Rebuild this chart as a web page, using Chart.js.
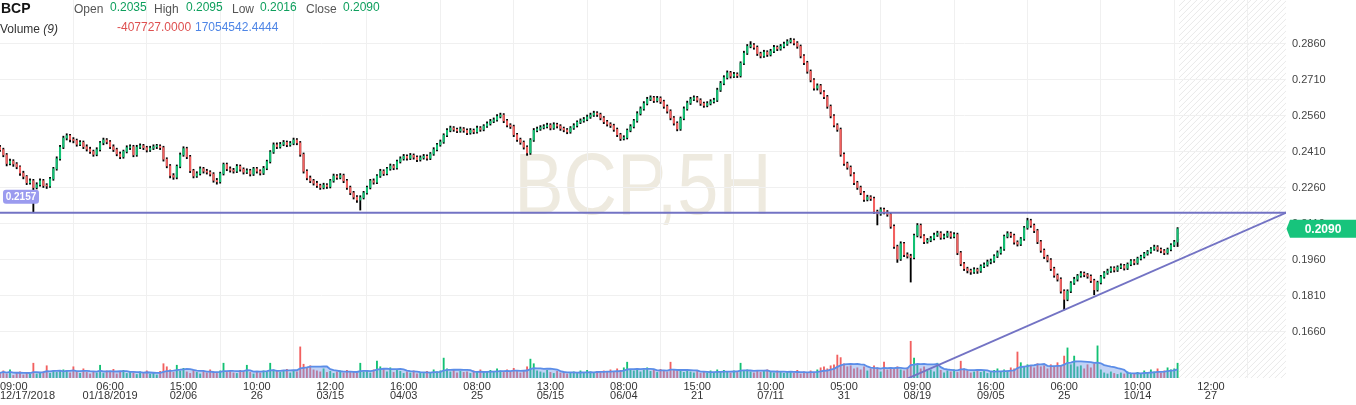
<!DOCTYPE html>
<html lang="en">
<head>
  <meta charset="UTF-8">
  <title>BCP,5H</title>
  <style>
    html, body { margin: 0; padding: 0; background: #fff; overflow: hidden; }
    #wrap { position: relative; width: 1356px; height: 405px; font-family: Arial, "Liberation Sans", sans-serif; }
    canvas { display: block; }
    .hd { position: absolute; white-space: nowrap; font-size: 12px; line-height: 12px; color: #555; }
    .ttl { font-size: 14px; line-height: 14px; font-weight: bold; color: #131313; }
    .val { color: #0e9f5d; }
    .red { color: #de5050; }
    .blue { color: #4f86e6; }
    .dark { color: #333; }
  </style>
</head>
<body>
<div id="wrap">
  <canvas id="grafico" width="1356" height="405"></canvas>
  <span class="hd ttl" style="left:1px;top:1px">BCP</span>
  <span class="hd" style="left:74px;top:3px">Open</span><span class="hd val" id="vOpen" style="left:110px;top:1px"></span>
  <span class="hd" style="left:154px;top:3px">High</span><span class="hd val" id="vHigh" style="left:186px;top:1px"></span>
  <span class="hd" style="left:232px;top:3px">Low</span><span class="hd val" id="vLow" style="left:260px;top:1px"></span>
  <span class="hd" style="left:306px;top:3px">Close</span><span class="hd val" id="vClose" style="left:343px;top:1px"></span>
  <span class="hd dark" style="left:0px;top:23px">Volume <i>(9)</i></span>
  <span class="hd red" style="left:117px;top:21px">-407727.0000</span>
  <span class="hd blue" style="left:195px;top:21px">17054542.4444</span>
</div>

<script src="https://cdn.jsdelivr.net/npm/chart.js"></script>
<script>
// 5H candles, one per index
const opens = [
  0.2430,0.2420,0.2398,0.2362,0.2372,0.2360,0.2348,0.2322,0.2308,0.2282,
  0.2290,0.2262,0.2274,0.2290,0.2270,0.2268,0.2298,0.2340,0.2382,0.2430,
  0.2468,0.2478,0.2462,0.2458,0.2442,0.2450,0.2432,0.2422,0.2412,0.2400,
  0.2420,0.2448,0.2460,0.2452,0.2432,0.2420,0.2402,0.2390,0.2412,0.2428,
  0.2432,0.2398,0.2430,0.2436,0.2428,0.2418,0.2426,0.2432,0.2434,0.2428,
  0.2380,0.2352,0.2312,0.2305,0.2350,0.2398,0.2424,0.2390,0.2332,0.2310,
  0.2320,0.2340,0.2330,0.2326,0.2318,0.2292,0.2286,0.2320,0.2358,0.2340,
  0.2334,0.2330,0.2350,0.2338,0.2326,0.2332,0.2318,0.2340,0.2330,0.2322,
  0.2342,0.2370,0.2410,0.2440,0.2432,0.2442,0.2450,0.2440,0.2446,0.2460,
  0.2448,0.2400,0.2330,0.2302,0.2290,0.2280,0.2270,0.2262,0.2272,0.2266,
  0.2290,0.2310,0.2304,0.2312,0.2290,0.2262,0.2240,0.2222,0.2210,0.2220,
  0.2240,0.2262,0.2290,0.2284,0.2310,0.2330,0.2320,0.2340,0.2352,0.2344,
  0.2370,0.2382,0.2392,0.2384,0.2396,0.2388,0.2378,0.2386,0.2392,0.2384,
  0.2402,0.2420,0.2440,0.2452,0.2480,0.2500,0.2510,0.2504,0.2498,0.2506,
  0.2500,0.2490,0.2500,0.2494,0.2510,0.2504,0.2518,0.2528,0.2538,0.2544,
  0.2558,0.2564,0.2540,0.2522,0.2516,0.2482,0.2462,0.2450,0.2430,0.2406,
  0.2460,0.2500,0.2506,0.2512,0.2516,0.2522,0.2510,0.2524,0.2518,0.2508,
  0.2502,0.2494,0.2510,0.2520,0.2534,0.2540,0.2546,0.2556,0.2564,0.2572,
  0.2566,0.2552,0.2536,0.2526,0.2520,0.2504,0.2482,0.2466,0.2470,0.2500,
  0.2516,0.2540,0.2570,0.2590,0.2612,0.2630,0.2636,0.2624,0.2634,0.2620,
  0.2600,0.2580,0.2552,0.2530,0.2506,0.2550,0.2590,0.2614,0.2630,0.2636,
  0.2626,0.2612,0.2604,0.2612,0.2620,0.2626,0.2668,0.2696,0.2720,0.2740,
  0.2726,0.2734,0.2728,0.2780,0.2822,0.2850,0.2856,0.2846,0.2820,0.2810,
  0.2826,0.2816,0.2830,0.2846,0.2840,0.2850,0.2860,0.2870,0.2876,0.2864,
  0.2850,0.2810,0.2782,0.2746,0.2710,0.2676,0.2686,0.2660,0.2640,0.2600,
  0.2560,0.2522,0.2504,0.2400,0.2362,0.2346,0.2318,0.2282,0.2262,0.2240,
  0.2212,0.2222,0.2216,0.2162,0.2152,0.2170,0.2160,0.2150,0.2100,0.2016,
  0.1964,0.2028,0.1982,0.1976,0.1970,0.2062,0.2104,0.2060,0.2036,0.2042,
  0.2050,0.2064,0.2072,0.2054,0.2060,0.2072,0.2058,0.2066,0.1990,0.1944,
  0.1924,0.1916,0.1910,0.1920,0.1914,0.1934,0.1940,0.1952,0.1956,0.1976,
  0.1990,0.2006,0.2058,0.2070,0.2062,0.2034,0.2026,0.2048,0.2094,0.2124,
  0.2104,0.2082,0.2036,0.2000,0.1974,0.1960,0.1924,0.1896,0.1880,0.1830,
  0.1796,0.1830,0.1864,0.1880,0.1894,0.1904,0.1898,0.1892,0.1874,0.1836,
  0.1866,0.1890,0.1906,0.1914,0.1926,0.1918,0.1930,0.1936,0.1926,0.1942,
  0.1956,0.1948,0.1966,0.1974,0.1986,0.1994,0.2006,0.2014,0.2004,0.1998,
  0.1990,0.2004,0.2022,0.2035
];
const highs = [
  0.2438,0.2426,0.2404,0.2380,0.2378,0.2366,0.2352,0.2330,0.2312,0.2298,
  0.2296,0.2282,0.2298,0.2296,0.2278,0.2304,0.2346,0.2390,0.2438,0.2476,
  0.2486,0.2484,0.2470,0.2464,0.2458,0.2456,0.2440,0.2430,0.2418,0.2428,
  0.2454,0.2468,0.2466,0.2458,0.2440,0.2426,0.2410,0.2418,0.2436,0.2440,
  0.2438,0.2438,0.2444,0.2442,0.2434,0.2434,0.2440,0.2442,0.2440,0.2434,
  0.2386,0.2358,0.2320,0.2356,0.2406,0.2432,0.2430,0.2396,0.2338,0.2328,
  0.2348,0.2346,0.2338,0.2332,0.2324,0.2300,0.2326,0.2364,0.2364,0.2348,
  0.2342,0.2358,0.2356,0.2344,0.2340,0.2338,0.2346,0.2346,0.2336,0.2350,
  0.2376,0.2416,0.2448,0.2448,0.2450,0.2458,0.2456,0.2454,0.2468,0.2466,
  0.2454,0.2406,0.2336,0.2310,0.2296,0.2288,0.2276,0.2280,0.2278,0.2296,
  0.2318,0.2316,0.2320,0.2318,0.2296,0.2268,0.2246,0.2228,0.2228,0.2246,
  0.2268,0.2296,0.2298,0.2316,0.2338,0.2336,0.2346,0.2360,0.2358,0.2376,
  0.2390,0.2400,0.2398,0.2404,0.2402,0.2394,0.2394,0.2400,0.2398,0.2408,
  0.2428,0.2446,0.2460,0.2486,0.2508,0.2518,0.2516,0.2510,0.2514,0.2512,
  0.2506,0.2508,0.2506,0.2518,0.2516,0.2524,0.2536,0.2546,0.2552,0.2566,
  0.2572,0.2570,0.2546,0.2528,0.2522,0.2488,0.2468,0.2456,0.2436,0.2466,
  0.2508,0.2514,0.2520,0.2524,0.2530,0.2528,0.2532,0.2530,0.2524,0.2514,
  0.2508,0.2516,0.2528,0.2540,0.2548,0.2554,0.2564,0.2572,0.2580,0.2578,
  0.2572,0.2558,0.2542,0.2532,0.2526,0.2510,0.2488,0.2478,0.2506,0.2524,
  0.2546,0.2578,0.2598,0.2620,0.2638,0.2644,0.2642,0.2642,0.2640,0.2626,
  0.2606,0.2586,0.2558,0.2536,0.2556,0.2598,0.2622,0.2638,0.2644,0.2642,
  0.2632,0.2618,0.2620,0.2628,0.2634,0.2676,0.2704,0.2728,0.2748,0.2746,
  0.2742,0.2740,0.2786,0.2830,0.2858,0.2870,0.2862,0.2852,0.2826,0.2834,
  0.2832,0.2838,0.2854,0.2852,0.2858,0.2868,0.2878,0.2884,0.2882,0.2870,
  0.2856,0.2816,0.2788,0.2752,0.2716,0.2694,0.2692,0.2666,0.2646,0.2606,
  0.2566,0.2528,0.2510,0.2406,0.2368,0.2352,0.2324,0.2288,0.2268,0.2246,
  0.2230,0.2228,0.2222,0.2168,0.2178,0.2176,0.2166,0.2156,0.2106,0.2022,
  0.2036,0.2034,0.1990,0.1984,0.2068,0.2112,0.2110,0.2066,0.2050,0.2058,
  0.2072,0.2080,0.2078,0.2068,0.2080,0.2078,0.2074,0.2072,0.1996,0.1950,
  0.1930,0.1922,0.1928,0.1926,0.1940,0.1948,0.1960,0.1964,0.1982,0.1998,
  0.2014,0.2064,0.2078,0.2076,0.2068,0.2040,0.2054,0.2100,0.2134,0.2130,
  0.2110,0.2088,0.2042,0.2006,0.1980,0.1966,0.1930,0.1902,0.1886,0.1836,
  0.1836,0.1870,0.1888,0.1900,0.1912,0.1910,0.1904,0.1898,0.1880,0.1872,
  0.1896,0.1912,0.1922,0.1932,0.1932,0.1936,0.1944,0.1942,0.1948,0.1962,
  0.1962,0.1972,0.1980,0.1992,0.2000,0.2012,0.2022,0.2020,0.2010,0.2004,
  0.2010,0.2028,0.2042,0.2095
];
const lows = [
  0.2412,0.2390,0.2352,0.2356,0.2350,0.2340,0.2312,0.2298,0.2274,0.2276,
  0.2157,0.2256,0.2268,0.2262,0.2258,0.2262,0.2292,0.2334,0.2376,0.2424,
  0.2460,0.2452,0.2448,0.2434,0.2436,0.2424,0.2414,0.2404,0.2392,0.2394,
  0.2414,0.2440,0.2444,0.2424,0.2412,0.2394,0.2382,0.2384,0.2406,0.2420,
  0.2390,0.2392,0.2424,0.2420,0.2410,0.2412,0.2420,0.2424,0.2420,0.2372,
  0.2344,0.2302,0.2296,0.2298,0.2344,0.2392,0.2382,0.2324,0.2302,0.2304,
  0.2314,0.2322,0.2318,0.2310,0.2284,0.2276,0.2280,0.2314,0.2332,0.2326,
  0.2322,0.2324,0.2330,0.2318,0.2320,0.2310,0.2312,0.2322,0.2314,0.2316,
  0.2336,0.2364,0.2404,0.2424,0.2426,0.2436,0.2432,0.2434,0.2440,0.2440,
  0.2392,0.2322,0.2294,0.2282,0.2272,0.2262,0.2254,0.2256,0.2258,0.2260,
  0.2284,0.2296,0.2298,0.2282,0.2254,0.2232,0.2214,0.2200,0.2168,0.2214,
  0.2234,0.2256,0.2276,0.2278,0.2304,0.2312,0.2314,0.2334,0.2336,0.2338,
  0.2364,0.2376,0.2376,0.2378,0.2380,0.2370,0.2372,0.2380,0.2376,0.2378,
  0.2396,0.2414,0.2434,0.2446,0.2474,0.2494,0.2496,0.2490,0.2492,0.2492,
  0.2482,0.2484,0.2486,0.2488,0.2496,0.2498,0.2512,0.2522,0.2532,0.2538,
  0.2552,0.2532,0.2514,0.2508,0.2474,0.2454,0.2442,0.2422,0.2396,0.2400,
  0.2454,0.2494,0.2500,0.2506,0.2510,0.2502,0.2504,0.2510,0.2500,0.2494,
  0.2486,0.2488,0.2504,0.2514,0.2528,0.2534,0.2540,0.2550,0.2558,0.2558,
  0.2544,0.2528,0.2518,0.2512,0.2496,0.2474,0.2458,0.2460,0.2464,0.2494,
  0.2510,0.2534,0.2564,0.2584,0.2606,0.2624,0.2616,0.2618,0.2612,0.2592,
  0.2572,0.2544,0.2522,0.2498,0.2500,0.2544,0.2584,0.2608,0.2624,0.2618,
  0.2604,0.2596,0.2598,0.2606,0.2614,0.2620,0.2662,0.2690,0.2714,0.2718,
  0.2720,0.2720,0.2722,0.2774,0.2816,0.2844,0.2838,0.2812,0.2802,0.2804,
  0.2808,0.2810,0.2824,0.2832,0.2834,0.2844,0.2854,0.2864,0.2856,0.2842,
  0.2802,0.2774,0.2738,0.2702,0.2668,0.2668,0.2652,0.2632,0.2592,0.2552,
  0.2514,0.2496,0.2392,0.2354,0.2338,0.2310,0.2274,0.2254,0.2232,0.2204,
  0.2206,0.2208,0.2154,0.2106,0.2146,0.2152,0.2142,0.2092,0.2008,0.1950,
  0.1958,0.1974,0.1968,0.1868,0.1964,0.2056,0.2052,0.2028,0.2030,0.2036,
  0.2044,0.2058,0.2046,0.2048,0.2054,0.2050,0.2052,0.1982,0.1936,0.1916,
  0.1906,0.1900,0.1904,0.1904,0.1908,0.1928,0.1934,0.1944,0.1950,0.1970,
  0.1984,0.2000,0.2052,0.2054,0.2026,0.2018,0.2020,0.2042,0.2088,0.2096,
  0.2074,0.2028,0.1992,0.1966,0.1952,0.1916,0.1888,0.1872,0.1822,0.1752,
  0.1790,0.1824,0.1858,0.1872,0.1888,0.1890,0.1884,0.1866,0.1815,0.1830,
  0.1860,0.1884,0.1900,0.1908,0.1910,0.1912,0.1924,0.1918,0.1920,0.1936,
  0.1940,0.1942,0.1960,0.1968,0.1980,0.1988,0.2000,0.1996,0.1990,0.1982,
  0.1984,0.1998,0.2016,0.2016
];
const closes = [
  0.2420,0.2398,0.2362,0.2372,0.2360,0.2348,0.2322,0.2308,0.2282,0.2290,
  0.2262,0.2274,0.2290,0.2270,0.2268,0.2298,0.2340,0.2382,0.2430,0.2468,
  0.2478,0.2462,0.2458,0.2442,0.2450,0.2432,0.2422,0.2412,0.2400,0.2420,
  0.2448,0.2460,0.2452,0.2432,0.2420,0.2402,0.2390,0.2412,0.2428,0.2432,
  0.2398,0.2430,0.2436,0.2428,0.2418,0.2426,0.2432,0.2434,0.2428,0.2380,
  0.2352,0.2312,0.2305,0.2350,0.2398,0.2424,0.2390,0.2332,0.2310,0.2320,
  0.2340,0.2330,0.2326,0.2318,0.2292,0.2286,0.2320,0.2358,0.2340,0.2334,
  0.2330,0.2350,0.2338,0.2326,0.2332,0.2318,0.2340,0.2330,0.2322,0.2342,
  0.2370,0.2410,0.2440,0.2432,0.2442,0.2450,0.2440,0.2446,0.2460,0.2448,
  0.2400,0.2330,0.2302,0.2290,0.2280,0.2270,0.2262,0.2272,0.2266,0.2290,
  0.2310,0.2304,0.2312,0.2290,0.2262,0.2240,0.2222,0.2210,0.2220,0.2240,
  0.2262,0.2290,0.2284,0.2310,0.2330,0.2320,0.2340,0.2352,0.2344,0.2370,
  0.2382,0.2392,0.2384,0.2396,0.2388,0.2378,0.2386,0.2392,0.2384,0.2402,
  0.2420,0.2440,0.2452,0.2480,0.2500,0.2510,0.2504,0.2498,0.2506,0.2500,
  0.2490,0.2500,0.2494,0.2510,0.2504,0.2518,0.2528,0.2538,0.2544,0.2558,
  0.2564,0.2540,0.2522,0.2516,0.2482,0.2462,0.2450,0.2430,0.2406,0.2460,
  0.2500,0.2506,0.2512,0.2516,0.2522,0.2510,0.2524,0.2518,0.2508,0.2502,
  0.2494,0.2510,0.2520,0.2534,0.2540,0.2546,0.2556,0.2564,0.2572,0.2566,
  0.2552,0.2536,0.2526,0.2520,0.2504,0.2482,0.2466,0.2470,0.2500,0.2516,
  0.2540,0.2570,0.2590,0.2612,0.2630,0.2636,0.2624,0.2634,0.2620,0.2600,
  0.2580,0.2552,0.2530,0.2506,0.2550,0.2590,0.2614,0.2630,0.2636,0.2626,
  0.2612,0.2604,0.2612,0.2620,0.2626,0.2668,0.2696,0.2720,0.2740,0.2726,
  0.2734,0.2728,0.2780,0.2822,0.2850,0.2856,0.2846,0.2820,0.2810,0.2826,
  0.2816,0.2830,0.2846,0.2840,0.2850,0.2860,0.2870,0.2876,0.2864,0.2850,
  0.2810,0.2782,0.2746,0.2710,0.2676,0.2686,0.2660,0.2640,0.2600,0.2560,
  0.2522,0.2504,0.2400,0.2362,0.2346,0.2318,0.2282,0.2262,0.2240,0.2212,
  0.2222,0.2216,0.2162,0.2152,0.2170,0.2160,0.2150,0.2100,0.2016,0.1964,
  0.2028,0.1982,0.1976,0.1970,0.2062,0.2104,0.2060,0.2036,0.2042,0.2050,
  0.2064,0.2072,0.2054,0.2060,0.2072,0.2058,0.2066,0.1990,0.1944,0.1924,
  0.1916,0.1910,0.1920,0.1914,0.1934,0.1940,0.1952,0.1956,0.1976,0.1990,
  0.2006,0.2058,0.2070,0.2062,0.2034,0.2026,0.2048,0.2094,0.2124,0.2104,
  0.2082,0.2036,0.2000,0.1974,0.1960,0.1924,0.1896,0.1880,0.1830,0.1796,
  0.1830,0.1864,0.1880,0.1894,0.1904,0.1898,0.1892,0.1874,0.1836,0.1866,
  0.1890,0.1906,0.1914,0.1926,0.1918,0.1930,0.1936,0.1926,0.1942,0.1956,
  0.1948,0.1966,0.1974,0.1986,0.1994,0.2006,0.2014,0.2004,0.1998,0.1990,
  0.2004,0.2022,0.2035,0.2090
];
// volume in millions of shares
const volumes = [
  10,14,8,16,5,9,12,6,11,7,  29,8,10,12,24,9,14,11,13,16,
  15,10,22,12,9,18,11,8,13,10,  25,9,14,11,17,8,12,15,9,13,
  10,7,12,9,14,8,11,6,13,28,  22,16,11,25,14,19,12,9,15,11,
  8,13,10,16,12,9,14,29,11,13,  10,9,15,12,25,11,8,13,10,14,
  12,29,16,14,11,13,17,10,15,12,  61,27,20,24,16,14,12,18,11,13,
  9,12,14,10,15,11,13,9,29,12,  14,10,16,33,22,18,12,20,11,15,
  13,9,12,10,14,8,11,9,13,10,  16,12,14,39,18,12,15,10,13,11,
  12,9,14,11,16,10,13,15,12,18,  14,11,16,12,19,13,10,15,22,37,
  28,14,12,10,15,11,9,13,10,12,  8,10,12,9,14,11,15,12,10,13,
  11,14,12,16,13,18,15,20,31,16,  14,18,12,16,20,13,15,11,17,14,
  12,31,15,13,17,11,14,12,10,13,  9,12,10,14,11,16,13,15,12,10,
  14,11,29,13,16,12,10,15,11,13,  16,12,10,14,11,9,13,12,10,15,
  8,12,10,14,11,16,20,22,18,24,  26,45,40,28,22,24,18,20,16,22,
  14,18,24,20,12,31,16,20,18,22,  16,14,20,72,39,26,18,22,14,16,
  12,29,15,10,14,12,16,11,33,18,  14,10,12,16,11,13,9,12,15,18,
  12,16,14,20,18,51,30,22,26,24,  20,28,22,24,18,26,22,30,24,43,
  59,26,43,22,24,18,26,20,28,63,  16,10,8,12,9,7,10,8,12,9,
  8,11,9,14,10,16,12,18,10,14,  20,16,18,29
];

const priceTicks = [0.1660, 0.1810, 0.1960, 0.2110, 0.2260, 0.2410, 0.2560, 0.2710, 0.2860];
const tickIdx = [11, 33, 55, 77, 99, 121, 143, 165, 187, 209, 231, 253, 275, 297, 319, 341, 363];
const tickLabels = [
  ['09:00', '12/17/2018'], ['06:00', '01/18/2019'], ['15:00', '02/06'], ['10:00', '26'],
  ['12:00', '03/15'], ['16:00', '04/03'], ['08:00', '25'], ['13:00', '05/15'],
  ['08:00', '06/04'], ['15:00', '21'], ['10:00', '07/11'], ['05:00', '31'],
  ['09:00', '08/19'], ['16:00', '09/05'], ['06:00', '25'], ['10:00', '10/14'], ['12:00', '27']
];
const levelPrice = 0.2157;
const trendIdx = [272, 386];
const trendPrice = [0.1466, 0.2160];
const maLength = 9;

const upColor = '#12c173';
const downColor = '#f2605f';
const lineColor = '#7373c4';

const n = closes.length;
const xMax = 385.5;
const idx = closes.map((c, i) => i);
const dirColor = idx.map(i => closes[i] >= opens[i] ? upColor : downColor);
const volMA = volumes.map((v, i) => {
  const part = volumes.slice(Math.max(0, i - maLength + 1), i + 1);
  return part.reduce((a, b) => a + b, 0) / part.length;
});

document.getElementById('vOpen').textContent = opens[n - 1].toFixed(4);
document.getElementById('vHigh').textContent = highs[n - 1].toFixed(4);
document.getElementById('vLow').textContent = lows[n - 1].toFixed(4);
document.getElementById('vClose').textContent = closes[n - 1].toFixed(4);

Chart.defaults.font.family = 'Arial, "Liberation Sans", sans-serif';

const backdrop = {
  id: 'backdrop',
  beforeDraw(chart) {
    const { ctx, chartArea: a, scales: { x } } = chart;
    // future zone, hatched
    const fx = x.getPixelForValue(n - 0.6);
    const h = a.bottom - a.top;
    ctx.save();
    ctx.beginPath();
    ctx.rect(fx, a.top, a.right - fx, h);
    ctx.clip();
    ctx.strokeStyle = '#eaeaea';
    ctx.lineWidth = 1;
    for (let k = fx - h; k < a.right; k += 6) {
      ctx.beginPath();
      ctx.moveTo(k, a.bottom);
      ctx.lineTo(k + h, a.top);
      ctx.stroke();
    }
    ctx.restore();
    // watermark
    ctx.save();
    ctx.fillStyle = '#eeeadf';
    ctx.font = '88px Arial, "Liberation Sans", sans-serif';
    ctx.textAlign = 'center';
    ctx.translate((a.left + a.right) / 2, (a.top + a.bottom) / 2 + 25);
    ctx.scale(0.84, 1);
    ctx.fillText('BCP,5H', 0, 0);
    ctx.restore();
  }
};

const overlay = {
  id: 'overlay',
  afterDraw(chart) {
    const { ctx, chartArea: a, scales: { x, y } } = chart;
    ctx.save();
    // time labels; the first one sits on the left edge
    ctx.font = '11px Arial, "Liberation Sans", sans-serif';
    ctx.fillStyle = '#333';
    ctx.textBaseline = 'alphabetic';
    tickIdx.forEach((t, k) => {
      const lines = tickLabels[k];
      let tx = x.getPixelForValue(t);
      ctx.textAlign = 'center';
      if (k === 0) { tx = a.left; ctx.textAlign = 'left'; }
      ctx.fillText(lines[0], tx, a.bottom + 12);
      ctx.fillText(lines[1], tx, a.bottom + 21);
    });
    // level tag
    const ly = y.getPixelForValue(levelPrice);
    ctx.fillStyle = '#9b9bef';
    ctx.beginPath();
    ctx.roundRect(3, ly - 23, 36, 14, 3);
    ctx.fill();
    ctx.fillStyle = '#fff';
    ctx.font = 'bold 10px Arial, "Liberation Sans", sans-serif';
    ctx.textAlign = 'center';
    ctx.fillText(levelPrice.toFixed(4), 21, ly - 12.5);
    // last price tag
    const cy = y.getPixelForValue(closes[n - 1]);
    const W = chart.width;
    ctx.fillStyle = '#17c47c';
    ctx.beginPath();
    ctx.moveTo(a.right + 0.5, cy);
    ctx.lineTo(a.right + 4, cy - 9);
    ctx.lineTo(W, cy - 9);
    ctx.lineTo(W, cy + 9);
    ctx.lineTo(a.right + 4, cy + 9);
    ctx.closePath();
    ctx.fill();
    ctx.fillStyle = '#fff';
    ctx.font = 'bold 12px Arial, "Liberation Sans", sans-serif';
    ctx.fillText(closes[n - 1].toFixed(4), (a.right + 4 + W) / 2, cy + 4.5);
    ctx.restore();
  }
};

new Chart(document.getElementById('grafico'), {
  data: {
    datasets: [
      {
        type: 'line', label: 'level',
        data: [{ x: 0, y: levelPrice }, { x: xMax, y: levelPrice }],
        borderColor: lineColor, borderWidth: 2, pointRadius: 0, order: 0
      },
      {
        type: 'line', label: 'trend',
        data: trendIdx.map((t, k) => ({ x: t, y: trendPrice[k] })),
        borderColor: lineColor, borderWidth: 2, pointRadius: 0, order: 0
      },
      {
        type: 'bar', label: 'body',
        data: idx.map(i => ({ x: i, y: [opens[i], closes[i]] })),
        backgroundColor: dirColor, barThickness: 1.4, minBarLength: 1, grouped: false, order: 1
      },
      {
        type: 'bar', label: 'wick',
        data: idx.map(i => ({ x: i, y: [lows[i], highs[i]] })),
        backgroundColor: '#000', barThickness: 1.2, grouped: false, order: 2
      },
      {
        type: 'line', label: 'Volume MA', yAxisID: 'vol',
        data: idx.map(i => ({ x: i, y: volMA[i] })),
        borderColor: '#5b8de8', borderWidth: 1.8, backgroundColor: 'rgba(118,158,236,0.45)',
        fill: 'origin', pointRadius: 0, order: 5
      },
      {
        type: 'bar', label: 'Volume', yAxisID: 'vol',
        data: idx.map(i => ({ x: i, y: volumes[i] })),
        backgroundColor: dirColor, barThickness: 1.2, grouped: false, order: 6
      }
    ]
  },
  options: {
    responsive: false,
    devicePixelRatio: 1,
    animation: false,
    events: [],
    layout: { padding: 0 },
    plugins: { legend: { display: false }, tooltip: { enabled: false } },
    scales: {
      x: {
        type: 'linear', min: 0, max: xMax, offset: false,
        grid: { color: '#f0f0f0', drawTicks: false },
        border: { display: false },
        ticks: { display: false },
        afterBuildTicks: s => { s.ticks = tickIdx.slice(1).map(v => ({ value: v })); },
        afterFit: s => { s.height = 27; }
      },
      y: {
        position: 'right', min: 0.14683, max: 0.30433,
        grid: { color: '#f0f0f0', drawTicks: false },
        border: { display: false },
        ticks: { color: '#444', font: { size: 11 }, padding: 6, callback: v => v.toFixed(4) },
        afterBuildTicks: s => { s.ticks = priceTicks.map(v => ({ value: v })); },
        afterFit: s => { s.width = 70; s.paddingTop = 0; s.paddingBottom = 0; }
      },
      vol: { display: false, min: 0, max: 741 }
    }
  },
  plugins: [backdrop, overlay]
});
</script>
</body>
</html>
